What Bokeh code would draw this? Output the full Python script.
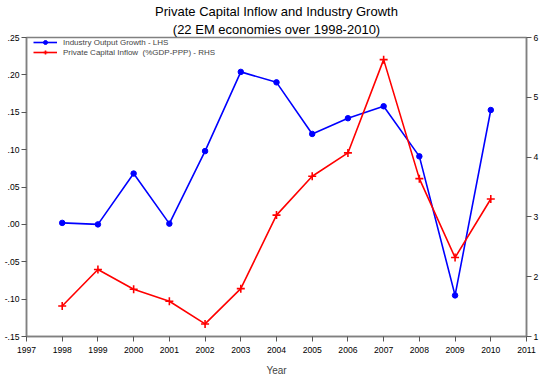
from bokeh.plotting import figure
from bokeh.models import (Range1d, LinearAxis, FixedTicker, CustomJSTickFormatter,
                          Legend, LegendItem, Title)
from bokeh.embed import file_html
from bokeh.resources import INLINE

# ---- data ----
YEARS = [1998, 1999, 2000, 2001, 2002, 2003, 2004, 2005, 2006, 2007, 2008, 2009, 2010]
INDUSTRY_GROWTH = [0.002, 0.000, 0.068, 0.001, 0.098, 0.204, 0.190, 0.121, 0.142, 0.158, 0.091, -0.095, 0.153]
CAPITAL_INFLOW = [1.51, 2.12, 1.79, 1.59, 1.21, 1.80, 3.03, 3.68, 4.07, 5.63, 3.64, 2.32, 3.30]

X_TICKS = list(range(1997, 2012))
LEFT_TICKS = [-0.15, -0.10, -0.05, 0.00, 0.05, 0.10, 0.15, 0.20, 0.25]
RIGHT_TICKS = [1, 2, 3, 4, 5, 6]

TITLE_LINES = ["Private Capital Inflow and Industry Growth", "(22 EM economies over 1998-2010)"]
X_LABEL = "Year"
LEGEND_LABELS = ["Industry Output Growth - LHS", "Private Capital Inflow  (%GDP-PPP) - RHS"]

FONT = "Liberation Sans"
AXIS_GRAY = "#808080"

p = figure(width=542, height=378, output_backend="svg", toolbar_location=None,
           x_range=Range1d(1997, 2011), y_range=Range1d(-0.15, 0.25),
           min_border_left=26, min_border_right=16, min_border_top=37, min_border_bottom=41)

def style_title(t):
    t.align = "center"
    t.text_font = FONT
    t.text_font_size = "13px"
    t.text_font_style = "normal"
    t.text_color = "black"
    t.standoff = 1
    t.offset = 0

p.title.text = TITLE_LINES[0]
style_title(p.title)
sub_title = Title(text=TITLE_LINES[1])
style_title(sub_title)
p.add_layout(sub_title, "above")

p.xgrid.visible = False
p.ygrid.visible = False
p.outline_line_color = AXIS_GRAY
p.outline_line_width = 1.5
p.background_fill_color = "white"
p.border_fill_color = "white"

p.extra_y_ranges = {"rhs": Range1d(1, 6)}
right_axis = LinearAxis(y_range_name="rhs", ticker=FixedTicker(ticks=RIGHT_TICKS))
p.add_layout(right_axis, "right")

p.xaxis.ticker = FixedTicker(ticks=X_TICKS)
p.xaxis.axis_label = X_LABEL
p.xaxis.axis_label_text_font = FONT
p.xaxis.axis_label_text_font_size = "10px"
p.xaxis.axis_label_text_font_style = "normal"

p.yaxis[0].ticker = FixedTicker(ticks=LEFT_TICKS)
p.yaxis[0].formatter = CustomJSTickFormatter(code="""
    return tick.toFixed(2).replace('0.', '.');
""")

for ax in [p.xaxis[0], p.yaxis[0], right_axis]:
    ax.axis_line_color = AXIS_GRAY
    ax.axis_line_width = 1.5
    ax.major_tick_line_color = "#555555"
    ax.major_tick_line_width = 1
    ax.major_tick_in = 0
    ax.major_tick_out = 5
    ax.minor_tick_in = 0
    ax.minor_tick_out = 0
    ax.major_label_text_font = FONT
    ax.major_label_text_font_size = "8.6px"
    ax.major_label_text_color = "black"
    ax.major_label_standoff = 2
    ax.axis_label_standoff = 0
p.xaxis.major_label_standoff = 5
p.xaxis.axis_label_standoff = 9
right_axis.major_label_standoff = 2

# ---- series ----
blue_line = p.line(YEARS, INDUSTRY_GROWTH, line_color="#0000ff", line_width=1.6)
blue_pts = p.scatter(YEARS, INDUSTRY_GROWTH, marker="circle", size=5.5,
                     fill_color="#0000ff", line_color="#0000ff")
red_line = p.line(YEARS, CAPITAL_INFLOW, line_color="#ff0000", line_width=1.6,
                  y_range_name="rhs")
red_pts = p.scatter(YEARS, CAPITAL_INFLOW, marker="cross", size=8, line_width=1.6,
                    line_color="#ff0000", y_range_name="rhs")

legend = Legend(items=[
    LegendItem(label=LEGEND_LABELS[0], renderers=[blue_line, blue_pts]),
    LegendItem(label=LEGEND_LABELS[1], renderers=[red_line, red_pts]),
], location=(7, 279))
legend.margin = 0
legend.padding = 0
legend.spacing = 0
legend.glyph_width = 24
legend.glyph_height = 10
legend.label_height = 10
legend.label_standoff = 6
legend.label_text_font = FONT
legend.label_text_font_size = "8px"
legend.background_fill_alpha = 0
legend.border_line_alpha = 0
p.add_layout(legend)

open("out.html", "w").write(file_html(p, INLINE))
